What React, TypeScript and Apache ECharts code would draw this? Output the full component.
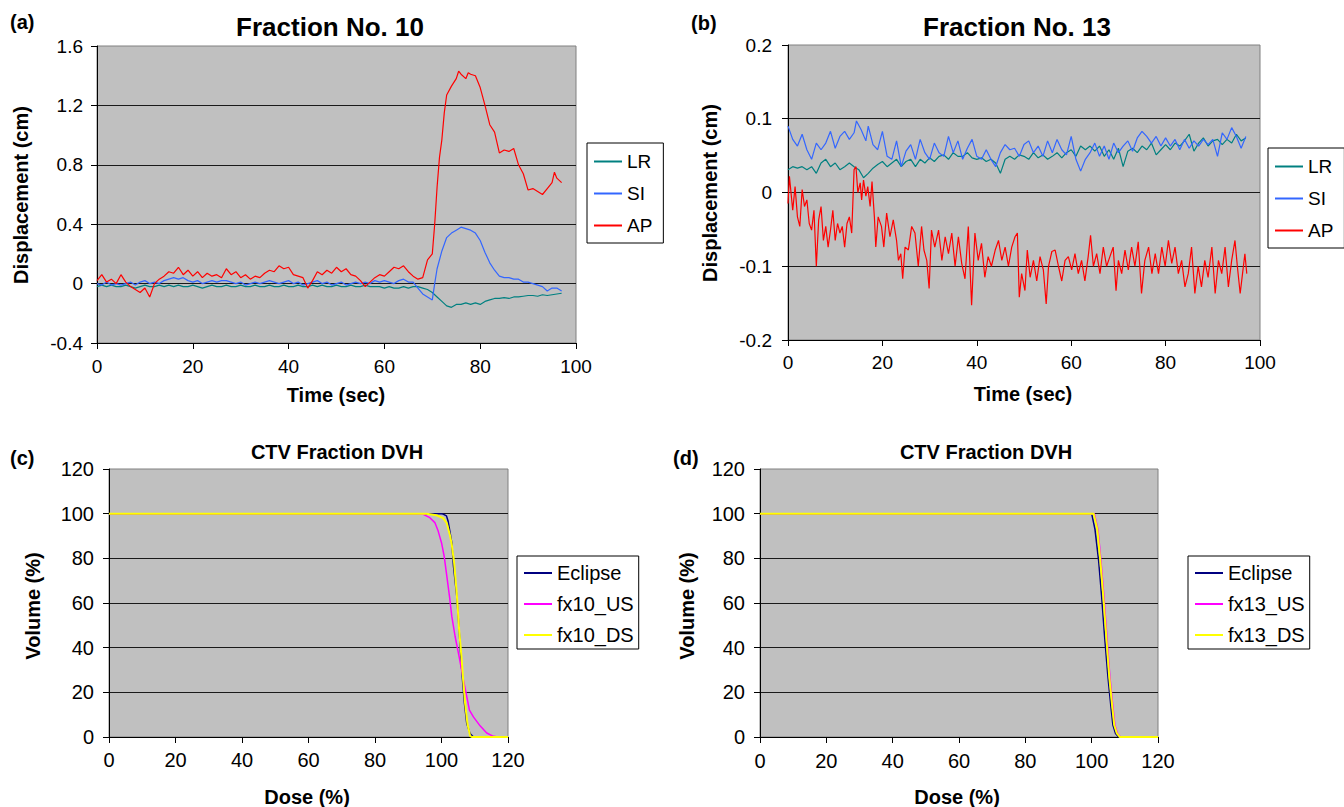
import React, { useEffect, useRef } from 'react';
import * as echarts from 'echarts';

const FONT = '"Liberation Sans", Arial, Helvetica, sans-serif';

// ---------- Panel (a): Fraction No. 10 (time sec, displacement cm) ----------
const lrA: number[][] = [
  [0,-0.02],[1,-0.01],[2,-0.02],[3,-0.01],[4,-0.02],[5,-0.02],[6,-0.01],[7,-0.02],[8,-0.03],[9,-0.02],
  [10,-0.01],[11,-0.02],[12,-0.02],[13,-0.01],[14,-0.02],[15,-0.01],[16,-0.02],[17,-0.01],[18,-0.02],[19,-0.02],
  [20,-0.01],[21,-0.02],[22,-0.03],[23,-0.02],[24,-0.01],[25,-0.02],[26,-0.02],[27,-0.01],[28,-0.02],[29,-0.02],
  [30,-0.01],[31,-0.02],[32,-0.02],[33,-0.01],[34,-0.02],[35,-0.02],[36,-0.01],[37,-0.02],[38,-0.02],[39,-0.01],
  [40,-0.02],[41,-0.02],[42,-0.01],[43,-0.02],[44,-0.02],[45,-0.01],[46,-0.02],[47,-0.01],[48,-0.02],[49,-0.02],
  [50,-0.01],[51,-0.02],[52,-0.02],[53,-0.01],[54,-0.02],[55,-0.02],[56,-0.01],[57,-0.02],[58,-0.02],[59,-0.02],
  [60,-0.03],[61,-0.02],[62,-0.03],[63,-0.03],[64,-0.02],[65,-0.03],[66,-0.02],[67,-0.02],[68,-0.03],[69,-0.04],
  [70,-0.06],[71,-0.09],[72,-0.12],[73,-0.15],[74,-0.16],[75,-0.14],[76,-0.14],[77,-0.13],[78,-0.14],[79,-0.13],
  [80,-0.14],[81,-0.12],[82,-0.11],[83,-0.1],[84,-0.1],[85,-0.095],[86,-0.1],[87,-0.09],[88,-0.09],[89,-0.085],
  [90,-0.08],[91,-0.08],[92,-0.085],[93,-0.075],[94,-0.08],[95,-0.075],[96,-0.07],[97,-0.065]
];
const siA: number[][] = [
  [0,0.0],[1,-0.01],[2,0.01],[3,-0.01],[4,0.0],[5,-0.01],[6,0.0],[7,0.01],[8,-0.01],[9,0.01],
  [10,0.02],[11,0.0],[12,0.01],[13,0.0],[14,0.02],[15,0.03],[16,0.04],[17,0.03],[18,0.04],[19,0.02],
  [20,0.01],[21,0.02],[22,0.0],[23,0.01],[24,0.02],[25,0.01],[26,0.02],[27,0.02],[28,0.01],[29,0.0],
  [30,0.01],[31,-0.01],[32,0.0],[33,0.01],[34,0.0],[35,0.01],[36,0.02],[37,0.01],[38,0.0],[39,0.01],
  [40,0.02],[41,0.0],[42,0.01],[43,-0.01],[44,0.0],[45,0.01],[46,0.02],[47,0.0],[48,0.01],[49,-0.01],
  [50,0.0],[51,0.01],[52,-0.01],[53,0.0],[54,0.01],[55,0.0],[56,0.01],[57,0.0],[58,0.02],[59,0.01],
  [60,0.02],[61,0.01],[62,0.0],[63,0.02],[64,0.03],[65,0.01],[66,0.01],[67,-0.03],[68,-0.07],[69,-0.09],
  [70,-0.11],[70.5,0.0],[71,0.1],[72,0.22],[73,0.31],[74,0.34],[75,0.36],[76,0.38],[77,0.37],[78,0.36],[79,0.34],
  [80,0.29],[81,0.21],[82,0.14],[83,0.09],[84,0.05],[85,0.04],[86,0.04],[87,0.03],[88,0.03],[89,0.01],
  [90,0.01],[91,0.0],[92,-0.01],[93,-0.02],[94,-0.05],[95,-0.03],[96,-0.03],[97,-0.05]
];
const apA: number[][] = [
  [0,0.02],[1,0.06],[2,0.01],[3,0.03],[4,0.0],[5,0.06],[6,0.01],[7,-0.02],[8,-0.04],[9,-0.06],
  [10,-0.03],[11,-0.09],[12,0.0],[13,0.03],[14,0.05],[15,0.08],[16,0.07],[17,0.11],[18,0.06],[19,0.09],
  [20,0.05],[21,0.08],[22,0.04],[23,0.07],[24,0.05],[25,0.06],[26,0.04],[27,0.1],[28,0.06],[29,0.08],
  [30,0.04],[31,0.06],[32,0.03],[33,0.05],[34,0.04],[35,0.07],[36,0.09],[37,0.08],[38,0.12],[39,0.1],
  [40,0.11],[41,0.06],[42,0.05],[43,0.04],[44,-0.03],[45,0.02],[46,0.08],[47,0.06],[48,0.09],[49,0.07],
  [50,0.11],[51,0.08],[52,0.1],[53,0.06],[54,0.05],[55,0.02],[56,-0.02],[57,0.01],[58,0.04],[59,0.06],
  [60,0.05],[61,0.08],[62,0.11],[63,0.1],[64,0.12],[65,0.08],[66,0.05],[67,0.03],[68,0.04],[69,0.16],
  [70,0.2],[70.5,0.4],[71,0.65],[71.5,0.85],[72,0.97],[72.5,1.15],[73,1.27],[74,1.33],[75,1.38],[75.5,1.43],
  [76,1.41],[77,1.38],[77.5,1.42],[78,1.41],[79,1.4],[80,1.32],[81,1.2],[82,1.07],[83,1.02],[84,0.88],
  [85,0.9],[86,0.89],[87,0.91],[88,0.8],[89,0.74],[90,0.63],[91,0.64],[92,0.62],[93,0.6],[94,0.64],
  [95,0.68],[95.5,0.75],[96,0.71],[97,0.68]
];

// ---------- Panel (b): Fraction No. 13 ----------
const lrB: number[][] = [
  [0,0.031],[1,0.035],[2,0.033],[3,0.035],[4,0.031],[5,0.035],[6,0.026],[7,0.04],[8,0.045],[9,0.035],
  [10,0.04],[11,0.031],[12,0.035],[13,0.04],[14,0.035],[15,0.031],[16,0.02],[17,0.026],[18,0.033],[19,0.038],
  [20,0.042],[21,0.035],[22,0.04],[23,0.045],[24,0.035],[25,0.042],[26,0.045],[27,0.035],[28,0.045],[29,0.04],
  [30,0.047],[31,0.042],[32,0.049],[33,0.051],[34,0.045],[35,0.054],[36,0.049],[37,0.049],[38,0.054],[39,0.047],
  [40,0.045],[41,0.047],[42,0.042],[43,0.045],[44,0.04],[45,0.026],[46,0.045],[47,0.049],[48,0.045],[49,0.051],
  [50,0.049],[51,0.045],[52,0.054],[53,0.047],[54,0.051],[55,0.045],[56,0.049],[57,0.054],[58,0.047],[59,0.054],
  [60,0.058],[61,0.049],[62,0.063],[63,0.058],[64,0.063],[65,0.056],[66,0.063],[67,0.049],[68,0.058],[69,0.045],
  [70,0.06],[71,0.035],[72,0.056],[73,0.06],[74,0.054],[75,0.063],[76,0.058],[77,0.067],[78,0.051],[79,0.058],
  [80,0.065],[81,0.058],[82,0.067],[83,0.063],[84,0.07],[85,0.079],[86,0.056],[87,0.067],[88,0.074],[89,0.063],
  [90,0.07],[91,0.072],[92,0.065],[93,0.072],[94,0.067],[95,0.079],[96,0.07],[97,0.074]
];
const siB: number[][] = [
  [0,0.09],[1,0.072],[2,0.063],[3,0.079],[4,0.058],[5,0.045],[6,0.067],[7,0.058],[8,0.067],[9,0.083],
  [10,0.06],[11,0.076],[12,0.083],[13,0.072],[14,0.081],[14.5,0.097],[15.5,0.085],[16.5,0.07],[17,0.09],[18,0.065],[19,0.058],
  [20,0.083],[21,0.049],[22,0.045],[23,0.07],[24,0.035],[25,0.056],[26,0.065],[27,0.045],[28,0.072],[29,0.054],
  [30,0.045],[31,0.067],[32,0.054],[33,0.049],[34,0.076],[35,0.054],[36,0.07],[37,0.045],[38,0.06],[39,0.072],
  [40,0.049],[41,0.045],[42,0.058],[43,0.045],[44,0.035],[45,0.054],[46,0.065],[47,0.058],[48,0.06],[49,0.049],
  [50,0.065],[51,0.07],[52,0.054],[53,0.063],[54,0.049],[55,0.07],[56,0.054],[57,0.072],[58,0.058],[59,0.051],
  [60,0.076],[61,0.045],[62,0.029],[63,0.045],[64,0.054],[65,0.067],[66,0.049],[67,0.063],[68,0.045],[69,0.067],
  [70,0.054],[71,0.063],[72,0.07],[73,0.056],[74,0.074],[75,0.083],[76,0.076],[77,0.067],[78,0.076],[79,0.063],
  [80,0.074],[81,0.063],[82,0.072],[83,0.058],[84,0.072],[85,0.06],[86,0.07],[87,0.063],[88,0.072],[89,0.065],
  [90,0.072],[91,0.049],[92,0.081],[93,0.072],[94,0.088],[95,0.076],[96,0.06],[97,0.076]
];
const apB: number[][] = [
  [0,-0.015],[0.3,0.022],[1,-0.024],[1.5,0.008],[2,-0.033],[2.5,-0.046],[3,0.004],[3.5,-0.019],[4,-0.01],[4.5,-0.042],
  [5,-0.051],[5.5,-0.024],[6,-0.1],[6.5,-0.037],[7,-0.019],[7.5,-0.065],[8,-0.046],[8.5,-0.074],[9,-0.051],[9.5,-0.024],
  [10,-0.065],[10.5,-0.042],[11,-0.055],[11.5,-0.046],[12,-0.074],[12.5,-0.042],[13,-0.033],[13.5,-0.055],[14,0.031],[14.4,0.035],
  [14.8,0],[15.3,0.013],[15.6,-0.01],[16,0.017],[16.5,-0.005],[16.9,0.008],[17.4,-0.019],[17.8,0.015],[18.3,-0.033],[18.6,-0.074],
  [19.1,-0.033],[19.8,-0.046],[20.3,-0.074],[20.9,-0.028],[21.6,-0.06],[22.3,-0.037],[23,-0.065],[23.4,-0.092],[23.9,-0.083],[24.3,-0.117],
  [24.8,-0.074],[25.5,-0.078],[26.2,-0.046],[26.9,-0.055],[27.6,-0.1],[28.3,-0.046],[28.8,-0.078],[29.4,-0.092],[29.9,-0.13],[30.4,-0.051],
  [31.1,-0.074],[31.9,-0.051],[32.6,-0.092],[33.3,-0.06],[34,-0.083],[34.7,-0.055],[35.4,-0.1],[36.1,-0.06],[36.8,-0.096],[37.5,-0.117],
  [38.2,-0.046],[38.9,-0.153],[39.6,-0.055],[40.3,-0.092],[41,-0.069],[41.7,-0.115],[42.4,-0.087],[43.1,-0.1],[43.9,-0.078],[44.6,-0.065],
  [45.3,-0.092],[46,-0.074],[46.7,-0.1],[47.4,-0.074],[48.1,-0.06],[48.6,-0.055],[49,-0.142],[49.5,-0.11],[50.2,-0.133],[50.7,-0.078],
  [51.3,-0.115],[52,-0.092],[52.7,-0.12],[53.4,-0.087],[54.1,-0.105],[54.7,-0.151],[55.2,-0.1],[55.9,-0.08],[56.6,-0.078],[57.3,-0.1],
  [58,-0.12],[58.7,-0.092],[59.4,-0.087],[60.1,-0.105],[60.8,-0.083],[61.5,-0.11],[62.2,-0.092],[62.9,-0.12],[63.6,-0.087],[64.1,-0.058],
  [64.7,-0.1],[65.4,-0.083],[66.1,-0.11],[66.8,-0.074],[67.5,-0.1],[68.2,-0.087],[68.9,-0.074],[69.5,-0.133],[70,-0.092],[70.7,-0.11],
  [71.4,-0.078],[72.1,-0.105],[72.8,-0.074],[73.5,-0.1],[74.2,-0.067],[74.9,-0.137],[75.6,-0.092],[76.4,-0.074],[77.1,-0.11],[77.8,-0.083],
  [78.5,-0.11],[79.2,-0.074],[79.9,-0.1],[80.6,-0.065],[81.3,-0.096],[82,-0.074],[82.7,-0.11],[83.4,-0.092],[84.1,-0.128],[84.8,-0.11],
  [85.5,-0.074],[86.2,-0.137],[86.9,-0.1],[87.6,-0.128],[88.3,-0.092],[89,-0.115],[89.8,-0.074],[90.5,-0.137],[91.2,-0.092],[91.9,-0.11],
  [92.6,-0.074],[93.3,-0.128],[94,-0.092],[94.7,-0.065],[95.2,-0.1],[95.8,-0.137],[96.3,-0.11],[96.8,-0.083],[97.2,-0.11]
];

// ---------- Panel (c): CTV Fraction DVH, fraction 10 (dose %, volume %) ----------
const eclipseC: number[][] = [
  [0,100],[100,100],[100.5,99.8],[101.5,99],[102,96.6],[102.6,91.4],[103.1,86.9],[103.6,76.5],[104.6,63],
  [105.3,48],[105.8,36],[106.4,24],[106.9,15],[107.6,6],[108.6,1.5],[109.6,0],[120,0]
];
const fx10US: number[][] = [
  [0,100],[92.5,100],[94.5,99.7],[96.5,98.2],[98,96],[99,92.2],[100,87],[100.8,81],[101.6,72],[102.4,63],
  [103.1,54],[104.1,45],[105.3,36],[106.4,27],[107.4,19.6],[108.4,12],[109.6,9],[111.6,5],[113.6,1.8],
  [115.6,0.3],[117,0],[120,0]
];
const fx10DS: number[][] = [
  [0,100],[95.5,100],[98.5,99.3],[100.5,98],[101.6,95.7],[102.6,90],[103.1,86],[103.8,78],[104.6,64],
  [105.3,48],[106,36],[106.6,24],[107.1,15],[107.8,6],[108.6,0.5],[109.1,0],[120,0]
];

// ---------- Panel (d): CTV Fraction DVH, fraction 13 ----------
const eclipseD: number[][] = [
  [0,100],[100,100],[101,93],[102.1,79],[103,63],[103.9,45],[104.9,27],[105.8,13.6],[106.4,5.4],[107.2,1.6],[108.1,0],[120,0]
];
const fx13US: number[][] = [
  [0,100],[100.8,100],[101.9,93],[102.8,79],[103.7,63],[104.6,45],[105.5,27],[106.4,13.6],[107,5.4],[107.8,1.6],[108.7,0],[120,0]
];
const fx13DS: number[][] = [
  [0,100],[100.6,100],[101.7,93],[102.6,79],[103.5,63],[104.4,45],[105.3,27],[106.2,13.6],[106.8,5.4],[107.6,1.6],[108.5,0],[120,0]
];

const motionNames = ['LR', 'SI', 'AP'];
const motionColors = ['#008080', '#3366FF', '#FF0000'];
const dvhColors = ['#000080', '#FF00FF', '#FFFF00'];

function xAxis(gridIndex: number, max: number, interval: number, fontSize: number, margin: number) {
  return {
    type: 'value', gridIndex, min: 0, max, interval,
    axisLine: { show: true, onZero: false, lineStyle: { color: '#000', width: 1 } },
    axisTick: { show: true, inside: false, length: 6, lineStyle: { color: '#000', width: 1 } },
    axisLabel: { margin, fontSize, fontFamily: FONT, color: '#000' },
    splitLine: { show: false },
  };
}

function yAxis(gridIndex: number, min: number, max: number, interval: number, fontSize: number, margin: number, decimals: boolean) {
  return {
    type: 'value', gridIndex, min, max, interval,
    axisLine: { show: true, onZero: false, lineStyle: { color: '#000', width: 1 } },
    axisTick: { show: true, inside: false, length: 6, lineStyle: { color: '#000', width: 1 } },
    axisLabel: {
      margin, fontSize, fontFamily: FONT, color: '#000',
      formatter: (v: number) => {
        if (!decimals) return String(Math.round(v));
        const r = Math.round(v * 10) / 10;
        return r === 0 ? '0' : String(r);
      },
    },
    splitLine: { show: true, showMaxLine: false, showMinLine: false, lineStyle: { color: '#1a1a1a', width: 1 } },
  };
}

function lineSeries(name: string, data: number[][], idx: number, color: string, width: number) {
  return {
    type: 'line', name, data, xAxisIndex: idx, yAxisIndex: idx,
    showSymbol: false, symbol: 'none', clip: true,
    lineStyle: { color, width }, itemStyle: { color },
    emphasis: { disabled: true }, animation: false,
  };
}

function legend(left: number, top: number, names: string[], fontSize: number, itemGap: number, padding: number[]) {
  return {
    orient: 'vertical', left, top, data: names, selectedMode: false,
    backgroundColor: '#fff', borderColor: '#000', borderWidth: 1, borderRadius: 0,
    padding, itemGap, itemWidth: 28, itemHeight: 2, icon: 'rect',
    textStyle: { fontSize, fontFamily: FONT, color: '#000', lineHeight: fontSize },
  };
}

function txt(text: string, x: number, y: number, size: number, rotate = false, align = 'center') {
  return {
    type: 'text', x, y, rotation: rotate ? Math.PI / 2 : 0, silent: true,
    style: {
      text, fill: '#000', textAlign: align, textVerticalAlign: 'middle',
      font: `bold ${size}px ${FONT}`,
    },
  };
}

export default function App() {
  const ref = useRef<HTMLDivElement>(null);
  useEffect(() => {
    const chart = echarts.init(ref.current!, null, { renderer: 'svg' });
    const gridStyle = { show: true, backgroundColor: '#C0C0C0', borderColor: '#808080', borderWidth: 1, containLabel: false };
    const option = {
      animation: false,
      backgroundColor: '#ffffff',
      grid: [
        { ...gridStyle, left: 97, top: 46, width: 479, height: 297 },
        { ...gridStyle, left: 788, top: 45, width: 472, height: 295 },
        { ...gridStyle, left: 109, top: 469, width: 399, height: 268 },
        { ...gridStyle, left: 760, top: 469, width: 398, height: 268 },
      ],
      xAxis: [
        xAxis(0, 100, 20, 19, 14),
        xAxis(1, 100, 20, 19, 13),
        xAxis(2, 120, 20, 20, 13),
        xAxis(3, 120, 20, 20, 14),
      ],
      yAxis: [
        yAxis(0, -0.4, 1.6, 0.4, 19, 14, true),
        yAxis(1, -0.2, 0.2, 0.1, 19, 16, true),
        yAxis(2, 0, 120, 20, 20, 15, false),
        yAxis(3, 0, 120, 20, 20, 15, false),
      ],
      legend: [
        legend(587, 143, motionNames, 19, 13, [9, 11, 8, 7]),
        legend(1268, 148, motionNames, 19, 13, [9, 11, 8, 7]),
        legend(517, 556, ['Eclipse', 'fx10_US', 'fx10_DS'], 20, 11, [7, 5, 4, 7]),
        legend(1188, 556, ['Eclipse', 'fx13_US', 'fx13_DS'], 20, 11, [7, 5, 4, 7]),
      ],
      series: [
        lineSeries('LR', lrA, 0, motionColors[0], 1.2),
        lineSeries('SI', siA, 0, motionColors[1], 1.2),
        lineSeries('AP', apA, 0, motionColors[2], 1.2),
        lineSeries('LR', lrB, 1, motionColors[0], 1.2),
        lineSeries('SI', siB, 1, motionColors[1], 1.2),
        lineSeries('AP', apB, 1, motionColors[2], 1.2),
        lineSeries('Eclipse', eclipseC, 2, dvhColors[0], 1.5),
        lineSeries('fx10_US', fx10US, 2, dvhColors[1], 1.5),
        lineSeries('fx10_DS', fx10DS, 2, dvhColors[2], 2),
        lineSeries('Eclipse', eclipseD, 3, dvhColors[0], 1.5),
        lineSeries('fx13_US', fx13US, 3, dvhColors[1], 1.5),
        lineSeries('fx13_DS', fx13DS, 3, dvhColors[2], 2),
      ],
      graphic: [
        txt('(a)', 10, 22, 20, false, 'left'),
        txt('(b)', 691, 23, 20, false, 'left'),
        txt('(c)', 10, 458, 20, false, 'left'),
        txt('(d)', 673, 458, 20, false, 'left'),
        txt('Fraction No. 10', 330, 27, 26),
        txt('Fraction No. 13', 1017, 27, 26),
        txt('CTV Fraction DVH', 337, 452, 20),
        txt('CTV Fraction DVH', 986, 452, 20),
        txt('Displacement (cm)', 21, 195, 20, true),
        txt('Displacement (cm)', 710, 193, 20, true),
        txt('Time (sec)', 336, 395, 20),
        txt('Time (sec)', 1023, 394, 20),
        txt('Volume (%)', 33, 606, 20, true),
        txt('Volume (%)', 687, 606, 20, true),
        txt('Dose (%)', 307, 797, 20),
        txt('Dose (%)', 957, 797, 20),
      ],
    };
    chart.setOption(option as any);
    return () => chart.dispose();
  }, []);
  return (
    <div
      ref={ref}
      style={{ position: 'fixed', left: 0, top: 0, width: 1344, height: 807, background: '#fff' }}
    />
  );
}
